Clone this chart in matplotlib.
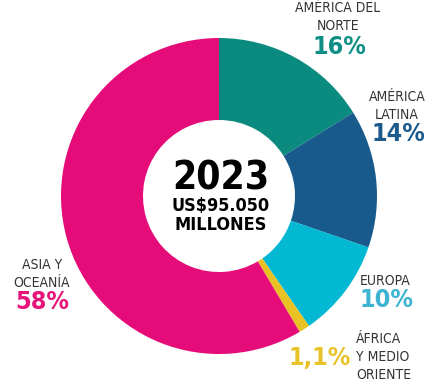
import matplotlib.pyplot as plt

regions = ["AMÉRICA DEL\nNORTE", "AMÉRICA\nLATINA", "EUROPA", "ÁFRICA\nY MEDIO\nORIENTE", "ASIA Y\nOCEANÍA"]
shares = [16, 14, 10, 1.1, 58]
pct_labels = ["16%", "14%", "10%", "1,1%", "58%"]
colors = ["#0b8a80", "#175a8b", "#02b8d3", "#e8c224", "#e50c79"]
text_colors = ["#0e8f86", "#1c5a8c", "#3cb4d2", "#e8c229", "#e5137a"]

plt.rcParams['font.family'] = ['DejaVu Sans']
plt.rcParams['font.stretch'] = 'condensed'

W, H = 445, 382
fig = plt.figure(figsize=(W / 100, H / 100), dpi=100)
ax = fig.add_axes([0, 0, 1, 1])
ax.set_aspect('equal')
ax.axis('off')

cx, cy, r = 219, H - 196, 158
ax.pie(shares, colors=colors, startangle=90, counterclock=False,
       center=(cx, cy), radius=r, wedgeprops=dict(width=r - 76, linewidth=0))
ax.set_xlim(0, W)
ax.set_ylim(0, H)

def y(p):
    return H - p

gray = "#333333"
ax.text(338, y(17), regions[0], ha='center', va='center', fontsize=10, color=gray, linespacing=1.35)
ax.text(339, y(47), pct_labels[0], ha='center', va='center', fontsize=18, fontweight='bold', color=text_colors[0])
ax.text(397, y(106), regions[1], ha='center', va='center', fontsize=10, color=gray, linespacing=1.35)
ax.text(398, y(134), pct_labels[1], ha='center', va='center', fontsize=18, fontweight='bold', color=text_colors[1])
ax.text(385, y(281), regions[2], ha='center', va='center', fontsize=10, color=gray)
ax.text(386, y(300), pct_labels[2], ha='center', va='center', fontsize=18, fontweight='bold', color=text_colors[2])
ax.text(356, y(357), regions[3], ha='left', va='center', fontsize=10, color=gray, linespacing=1.35)
ax.text(351, y(358), pct_labels[3], ha='right', va='center', fontsize=18, fontweight='bold', color=text_colors[3])
ax.text(42, y(274), regions[4], ha='center', va='center', fontsize=10, color=gray, linespacing=1.35)
ax.text(42, y(302), pct_labels[4], ha='center', va='center', fontsize=18, fontweight='bold', color=text_colors[4])

ax.text(cx + 2, y(178), "2023", ha='center', va='center', fontsize=28, fontweight='bold', color='black')
ax.text(cx + 2, y(206), "US$95.050", ha='center', va='center', fontsize=13, fontweight='bold', color='black')
ax.text(cx + 2, y(225), "MILLONES", ha='center', va='center', fontsize=13, fontweight='bold', color='black')

fig.savefig("out.png", dpi=100)
